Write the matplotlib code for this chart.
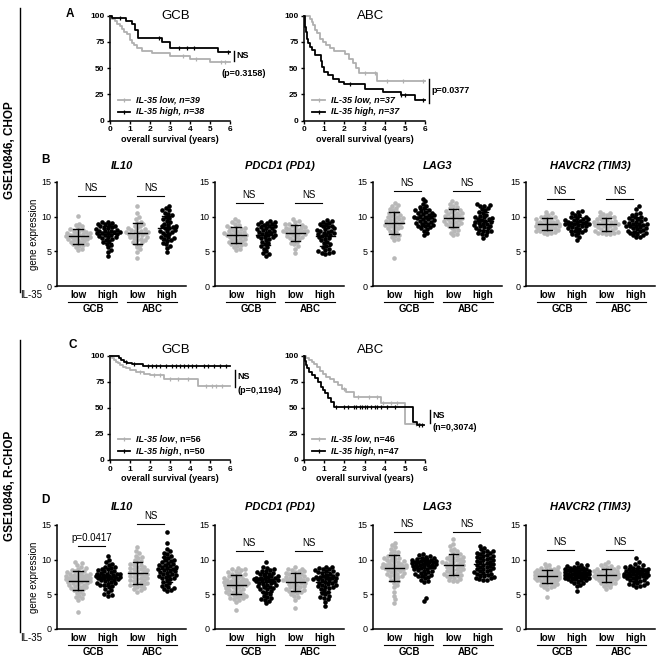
import numpy as np
import matplotlib
matplotlib.use("Agg")
import matplotlib.pyplot as plt

plt.rcParams['font.family'] = ['Liberation Sans', 'DejaVu Sans']

W, H = 669, 658
KM_GREY = '#b0b0b0'
DOT_GREY = '#b8b8b8'

# ---------------- survival curves (years, % alive) ----------------
# CHOP, GCB
chop_gcb_low_t = [0, 0.1, 0.25, 0.35, 0.5, 0.6, 0.7, 0.85, 1.0, 1.1, 1.2, 1.35, 1.6, 2.1, 3.0, 4.0, 5.0, 6.0]
chop_gcb_low_s = [100, 97, 95, 92, 89.7, 87, 84.6, 82, 77, 74, 71.8, 69, 66.7, 64, 61.5, 59, 56, 56]
chop_gcb_low_cens = [3.65, 4.3, 5.55, 5.75]
chop_gcb_high_t = [0, 0.1, 0.8, 1.1, 1.25, 1.4, 2.6, 3.0, 5.4, 6.0]
chop_gcb_high_s = [100, 97.4, 94.7, 92.0, 86.6, 78.5, 74.5, 69.3, 65.7, 65.7]
chop_gcb_high_cens = [0.5, 2.45, 3.45, 3.85, 4.2, 5.9]
# CHOP, ABC
chop_abc_low_t = [0, 0.3, 0.38, 0.45, 0.55, 0.65, 0.8, 0.95, 1.1, 1.3, 1.5, 2.05, 2.25, 2.45, 2.6, 2.75, 3.6, 6.0]
chop_abc_low_s = [100, 97, 94, 91, 86, 83, 78, 75, 72, 69, 66, 63, 59, 55, 50, 45, 38, 38]
chop_abc_low_cens = [3.0, 3.5, 4.1, 4.9, 5.9]
chop_abc_high_t = [0, 0.03, 0.07, 0.12, 0.17, 0.22, 0.3, 0.4, 0.55, 0.85, 0.9, 0.97, 1.2, 1.45, 1.75, 2.0, 3.0, 3.9, 4.8, 5.5, 6.0]
chop_abc_high_s = [100, 95, 89, 84, 78, 74, 70, 67, 62, 57, 51, 46, 43, 40, 37, 35, 30, 27, 24, 19.5, 19.5]
chop_abc_high_cens = [2.3, 4.8, 5.0, 5.9]
# R-CHOP, GCB
rchop_gcb_low_t = [0, 0.12, 0.2, 0.3, 0.4, 0.5, 0.65, 0.8, 1.0, 1.3, 1.7, 2.0, 2.7, 4.4, 6.0]
rchop_gcb_low_s = [100, 98.2, 96.4, 94.6, 92.8, 91, 89.5, 88, 87, 85, 83, 82, 78, 71, 71]
rchop_gcb_low_cens = [1.5, 2.2, 2.5, 3.0, 3.4, 3.9, 4.8, 5.1, 5.3, 5.6]
rchop_gcb_high_t = [0, 0.45, 0.55, 0.7, 0.85, 1.1, 1.65, 6.0]
rchop_gcb_high_s = [100, 98, 96, 94, 93, 92, 90, 90]
rchop_gcb_high_cens = [0.8, 1.2, 1.9, 2.1, 2.3, 2.5, 2.8, 3.1, 3.3, 3.5, 3.7, 3.9, 4.1, 4.3, 4.7, 4.9, 5.2, 5.5, 5.8]
# R-CHOP, ABC
rchop_abc_low_t = [0, 0.1, 0.25, 0.4, 0.5, 0.65, 0.8, 0.95, 1.1, 1.3, 1.5, 1.7, 1.9, 2.1, 2.5, 3.8, 5.0, 5.75]
rchop_abc_low_s = [100, 98, 96, 94, 92, 89, 86, 83, 80, 78, 75, 72, 68, 65, 61, 55, 35, 35]
rchop_abc_low_cens = [2.0, 2.7, 3.2, 3.6, 3.9, 4.3, 4.6, 5.55]
rchop_abc_high_t = [0, 0.03, 0.08, 0.15, 0.25, 0.4, 0.55, 0.7, 0.85, 0.95, 1.05, 1.2, 1.35, 1.5, 5.4, 5.6, 5.95]
rchop_abc_high_s = [100, 95, 91, 88, 85, 82, 79, 75, 70, 67, 64, 60, 56, 51, 37, 34, 34]
rchop_abc_high_cens = [1.6, 2.0, 2.2, 2.5, 2.6, 2.8, 2.9, 3.0, 3.1, 3.3, 3.5, 3.6, 3.8, 4.1, 4.5, 5.7, 5.85]

# ---------------- gene expression, groups: GCB low, GCB high, ABC low, ABC high ----------------
group_labels = ['low', 'high', 'low', 'high']
subtypes = ['GCB', 'ABC']
gene_titles = ['IL10', 'PDCD1 (PD1)', 'LAG3', 'HAVCR2 (TIM3)']

chop_il10 = [
    [10.1, 9.0, 8.8, 8.6, 8.4, 8.2, 8.1, 8.0, 7.9, 7.8, 7.7, 7.6, 7.6, 7.5, 7.4, 7.4, 7.3, 7.3, 7.2, 7.1,
     7.1, 7.0, 7.0, 6.9, 6.8, 6.8, 6.7, 6.6, 6.5, 6.4, 6.3, 6.2, 6.1, 6.0, 5.9, 5.8, 5.6, 5.4, 5.2],
    [9.3, 9.2, 9.1, 9.0, 8.9, 8.8, 8.7, 8.6, 8.5, 8.4, 8.3, 8.2, 8.1, 8.0, 8.0, 7.9, 7.8, 7.8, 7.7, 7.6,
     7.6, 7.5, 7.4, 7.3, 7.2, 7.1, 7.0, 6.9, 6.8, 6.7, 6.5, 6.3, 6.1, 5.9, 5.6, 5.2, 4.9, 4.3],
    [11.6, 10.6, 10.0, 9.6, 9.3, 9.1, 8.9, 8.7, 8.6, 8.4, 8.3, 8.2, 8.1, 8.0, 7.9, 7.8, 7.8, 7.7, 7.6, 7.5,
     7.4, 7.3, 7.2, 7.1, 7.0, 6.9, 6.8, 6.7, 6.6, 6.4, 6.3, 6.1, 5.9, 5.6, 5.3, 4.9, 4.1],
    [11.5, 11.2, 11.0, 10.9, 10.6, 10.4, 10.2, 10.0, 9.8, 9.6, 9.4, 9.2, 9.0, 8.8, 8.7, 8.6, 8.5, 8.4, 8.3,
     8.1, 8.0, 7.9, 7.8, 7.7, 7.5, 7.3, 7.1, 7.0, 6.9, 6.8, 6.6, 6.5, 6.2, 6.0, 5.8, 5.5, 4.9],
]
chop_pdcd1 = [
    [9.7, 9.4, 9.2, 9.0, 8.8, 8.6, 8.5, 8.4, 8.3, 8.2, 8.1, 8.0, 7.9, 7.8, 7.7, 7.6, 7.6, 7.5, 7.4, 7.3,
     7.3, 7.2, 7.1, 7.0, 6.9, 6.8, 6.7, 6.6, 6.5, 6.4, 6.3, 6.2, 6.1, 6.0, 5.9, 5.8, 5.6, 5.4, 5.2],
    [9.4, 9.3, 9.2, 9.1, 9.0, 8.9, 8.8, 8.7, 8.6, 8.5, 8.4, 8.3, 8.2, 8.1, 8.0, 7.9, 7.8, 7.7, 7.6, 7.5,
     7.4, 7.3, 7.2, 7.1, 7.0, 6.9, 6.8, 6.6, 6.4, 6.2, 6.0, 5.8, 5.6, 5.4, 5.0, 4.7, 4.6, 4.3],
    [9.6, 9.4, 9.2, 9.0, 8.9, 8.8, 8.7, 8.6, 8.5, 8.4, 8.3, 8.2, 8.2, 8.1, 8.0, 8.0, 7.9, 7.9, 7.8, 7.8,
     7.7, 7.6, 7.5, 7.4, 7.3, 7.2, 7.1, 7.0, 6.9, 6.8, 6.6, 6.4, 6.2, 6.0, 5.8, 5.4, 4.7],
    [9.5, 9.4, 9.3, 9.1, 9.0, 8.9, 8.7, 8.6, 8.5, 8.3, 8.2, 8.1, 8.0, 7.9, 7.8, 7.7, 7.6, 7.5, 7.4,
     7.3, 7.2, 7.0, 6.9, 6.8, 6.6, 6.4, 6.2, 6.0, 5.8, 5.6, 5.4, 5.2, 5.0, 4.9, 4.8, 4.7, 4.6],
]
chop_lag3 = [
    [11.9, 11.7, 11.5, 11.3, 11.1, 10.9, 10.7, 10.5, 10.4, 10.2, 10.1, 10.0, 9.9, 9.8, 9.7, 9.6, 9.5, 9.4,
     9.3, 9.2, 9.1, 9.0, 8.9, 8.8, 8.7, 8.6, 8.5, 8.4, 8.3, 8.2, 8.0, 7.8, 7.6, 7.4, 7.2, 7.0, 6.8, 6.6, 4.1],
    [12.6, 12.2, 11.8, 11.6, 11.4, 11.2, 11.0, 10.9, 10.8, 10.7, 10.6, 10.5, 10.4, 10.3, 10.2, 10.1, 10.0,
     10.0, 9.9, 9.8, 9.7, 9.6, 9.5, 9.4, 9.3, 9.2, 9.1, 9.0, 8.9, 8.8, 8.7, 8.6, 8.5, 8.4, 8.2, 8.0, 7.6, 7.4],
    [12.2, 12.0, 11.8, 11.6, 11.4, 11.2, 11.0, 10.9, 10.8, 10.7, 10.6, 10.5, 10.4, 10.3, 10.2, 10.1, 10.0,
     9.9, 9.8, 9.7, 9.6, 9.5, 9.4, 9.3, 9.2, 9.1, 9.0, 8.9, 8.8, 8.7, 8.5, 8.3, 8.1, 7.9, 7.7, 7.5, 7.3],
    [11.8, 11.7, 11.6, 11.5, 11.3, 11.1, 10.9, 10.7, 10.5, 10.3, 10.1, 10.0, 9.9, 9.8, 9.7, 9.6, 9.5, 9.4,
     9.3, 9.2, 9.1, 9.0, 8.9, 8.8, 8.7, 8.6, 8.5, 8.4, 8.3, 8.1, 8.0, 7.9, 7.8, 7.6, 7.5, 7.3, 6.9],
]
chop_havcr2 = [
    [10.7, 10.5, 10.3, 10.1, 10.0, 9.9, 9.8, 9.7, 9.6, 9.5, 9.4, 9.3, 9.3, 9.2, 9.1, 9.1, 9.0, 9.0, 8.9, 8.9,
     8.8, 8.8, 8.7, 8.7, 8.6, 8.5, 8.5, 8.4, 8.3, 8.3, 8.2, 8.1, 8.0, 7.9, 7.9, 7.8, 7.7, 7.6, 7.5],
    [10.8, 10.7, 10.5, 10.3, 10.2, 10.0, 9.9, 9.8, 9.7, 9.6, 9.5, 9.5, 9.4, 9.3, 9.2, 9.2, 9.1, 9.1, 9.0,
     9.0, 8.9, 8.8, 8.8, 8.7, 8.6, 8.5, 8.4, 8.3, 8.2, 8.1, 8.0, 7.9, 7.8, 7.7, 7.5, 7.3, 7.1, 6.7],
    [10.7, 10.5, 10.4, 10.2, 10.1, 10.0, 9.9, 9.8, 9.7, 9.6, 9.5, 9.4, 9.3, 9.2, 9.2, 9.1, 9.0, 9.0, 8.9,
     8.8, 8.8, 8.7, 8.6, 8.5, 8.4, 8.3, 8.2, 8.1, 8.0, 7.9, 7.9, 7.8, 7.7, 7.6, 7.6, 7.5, 7.5],
    [11.5, 11.1, 10.6, 10.4, 10.2, 10.0, 9.9, 9.8, 9.7, 9.6, 9.5, 9.4, 9.3, 9.2, 9.1, 9.0, 9.0, 8.9, 8.8,
     8.7, 8.6, 8.6, 8.5, 8.4, 8.3, 8.2, 8.1, 8.0, 7.9, 7.8, 7.7, 7.6, 7.5, 7.4, 7.3, 7.1, 7.0],
]

rchop_il10 = [
    [9.6, 9.5, 9.2, 9.0, 8.8, 8.6, 8.5, 8.4, 8.3, 8.2, 8.1, 8.0, 7.9, 7.9, 7.8, 7.8, 7.7, 7.7, 7.6, 7.6,
     7.5, 7.5, 7.4, 7.4, 7.3, 7.3, 7.2, 7.2, 7.1, 7.1, 7.0, 7.0, 6.9, 6.9, 6.8, 6.8, 6.7, 6.6, 6.5, 6.4,
     6.3, 6.2, 6.1, 6.0, 5.9, 5.8, 5.7, 5.6, 5.4, 5.2, 5.0, 4.8, 4.6, 4.4, 4.2, 2.5],
    [10.6, 10.0, 9.6, 9.4, 9.2, 9.0, 8.9, 8.8, 8.7, 8.6, 8.5, 8.4, 8.3, 8.2, 8.1, 8.0, 8.0, 7.9, 7.9, 7.8,
     7.8, 7.7, 7.7, 7.6, 7.6, 7.5, 7.5, 7.4, 7.4, 7.3, 7.3, 7.2, 7.2, 7.1, 7.0, 6.9, 6.8, 6.7, 6.6, 6.5,
     6.4, 6.3, 6.2, 6.0, 5.8, 5.6, 5.4, 5.0, 4.9, 4.8],
    [11.8, 11.3, 10.9, 10.6, 10.4, 10.2, 10.0, 9.8, 9.6, 9.4, 9.3, 9.2, 9.0, 8.9, 8.8, 8.7, 8.6, 8.5, 8.4,
     8.3, 8.2, 8.1, 8.0, 7.9, 7.8, 7.7, 7.6, 7.5, 7.4, 7.3, 7.2, 7.1, 7.0, 6.9, 6.8, 6.7, 6.6, 6.5, 6.4,
     6.3, 6.2, 6.0, 5.9, 5.7, 5.6, 5.4],
    [14.0, 12.4, 11.6, 11.2, 11.0, 10.8, 10.6, 10.4, 10.2, 10.0, 9.9, 9.8, 9.6, 9.5, 9.4, 9.3, 9.2, 9.1,
     9.0, 8.9, 8.8, 8.7, 8.6, 8.5, 8.4, 8.3, 8.2, 8.1, 8.0, 7.9, 7.8, 7.7, 7.6, 7.5, 7.4, 7.3, 7.2, 7.0,
     6.8, 6.6, 6.4, 6.2, 6.0, 5.9, 5.8, 5.6, 5.5],
]
rchop_pdcd1 = [
    [8.8, 8.7, 8.6, 8.5, 8.4, 8.2, 8.1, 8.0, 7.9, 7.8, 7.7, 7.6, 7.5, 7.4, 7.3, 7.2, 7.1, 7.0, 7.0, 6.9,
     6.9, 6.8, 6.8, 6.7, 6.7, 6.6, 6.6, 6.5, 6.5, 6.4, 6.4, 6.3, 6.3, 6.2, 6.1, 6.0, 5.9, 5.8, 5.7, 5.6,
     5.5, 5.4, 5.3, 5.2, 5.1, 5.0, 4.9, 4.8, 4.7, 4.6, 4.5, 4.4, 4.3, 4.2, 3.9, 2.8],
    [9.7, 9.0, 8.8, 8.6, 8.5, 8.4, 8.3, 8.2, 8.1, 8.0, 7.9, 7.8, 7.7, 7.6, 7.5, 7.4, 7.4, 7.3, 7.3, 7.2,
     7.2, 7.1, 7.1, 7.0, 7.0, 6.9, 6.9, 6.8, 6.7, 6.6, 6.5, 6.4, 6.3, 6.2, 6.1, 6.0, 5.9, 5.8, 5.7, 5.5,
     5.4, 5.2, 5.0, 4.8, 4.6, 4.4, 4.3, 4.2, 4.0, 3.7],
    [8.9, 8.7, 8.6, 8.5, 8.4, 8.3, 8.2, 8.1, 8.0, 7.9, 7.8, 7.7, 7.6, 7.5, 7.4, 7.3, 7.3, 7.2, 7.2, 7.1,
     7.1, 7.0, 7.0, 6.9, 6.8, 6.7, 6.6, 6.5, 6.4, 6.3, 6.2, 6.1, 6.0, 5.9, 5.8, 5.7, 5.6, 5.5, 5.4, 5.3,
     5.2, 5.0, 4.8, 4.6, 4.2, 3.1],
    [9.0, 8.9, 8.8, 8.7, 8.6, 8.5, 8.4, 8.3, 8.2, 8.1, 8.0, 7.9, 7.8, 7.7, 7.6, 7.5, 7.5, 7.4, 7.4, 7.3,
     7.3, 7.2, 7.2, 7.1, 7.0, 6.9, 6.8, 6.7, 6.6, 6.5, 6.4, 6.3, 6.2, 6.1, 6.0, 5.9, 5.8, 5.6, 5.4, 5.2,
     5.0, 4.8, 4.6, 4.5, 4.3, 3.9, 3.3],
]
rchop_lag3 = [
    [12.4, 12.1, 11.8, 11.5, 11.3, 11.1, 10.9, 10.7, 10.5, 10.4, 10.3, 10.2, 10.1, 10.0, 9.9, 9.8, 9.7,
     9.6, 9.5, 9.4, 9.4, 9.3, 9.3, 9.2, 9.2, 9.1, 9.1, 9.0, 9.0, 8.9, 8.9, 8.8, 8.8, 8.7, 8.6, 8.5, 8.4,
     8.3, 8.2, 8.1, 8.0, 7.9, 7.8, 7.7, 7.6, 7.5, 7.3, 7.1, 6.9, 6.7, 6.4, 6.0, 5.4, 4.8, 4.3, 3.8],
    [10.8, 10.7, 10.5, 10.4, 10.3, 10.2, 10.1, 10.0, 10.0, 9.9, 9.9, 9.8, 9.8, 9.7, 9.7, 9.6, 9.6, 9.5,
     9.5, 9.4, 9.4, 9.3, 9.3, 9.2, 9.2, 9.1, 9.1, 9.0, 9.0, 8.9, 8.8, 8.7, 8.6, 8.5, 8.4, 8.3, 8.2, 8.1,
     8.0, 7.9, 7.8, 7.7, 7.6, 7.5, 7.3, 7.1, 6.9, 6.8, 4.4, 4.0],
    [13.0, 12.3, 11.9, 11.6, 11.4, 11.2, 11.0, 10.8, 10.6, 10.5, 10.4, 10.3, 10.2, 10.1, 10.0, 9.9, 9.8,
     9.7, 9.6, 9.5, 9.5, 9.4, 9.3, 9.2, 9.1, 9.0, 8.9, 8.8, 8.7, 8.6, 8.5, 8.4, 8.3, 8.2, 8.1, 8.0, 7.9,
     7.8, 7.7, 7.6, 7.5, 7.4, 7.2, 7.0, 6.9, 6.9],
    [12.0, 11.7, 11.5, 11.3, 11.2, 11.1, 11.0, 10.9, 10.8, 10.7, 10.6, 10.5, 10.4, 10.3, 10.2, 10.1, 10.0,
     9.9, 9.8, 9.7, 9.6, 9.5, 9.4, 9.3, 9.2, 9.1, 9.0, 8.9, 8.8, 8.7, 8.6, 8.5, 8.4, 8.3, 8.2, 8.1, 8.0,
     7.9, 7.8, 7.7, 7.6, 7.5, 7.4, 7.3, 7.2, 7.1, 7.1],
]
rchop_havcr2 = [
    [9.4, 9.2, 9.0, 8.9, 8.8, 8.7, 8.6, 8.5, 8.5, 8.4, 8.4, 8.3, 8.3, 8.2, 8.2, 8.1, 8.1, 8.0, 8.0, 8.0,
     7.9, 7.9, 7.9, 7.8, 7.8, 7.8, 7.7, 7.7, 7.7, 7.6, 7.6, 7.6, 7.5, 7.5, 7.4, 7.4, 7.3, 7.3, 7.2, 7.2,
     7.1, 7.1, 7.0, 7.0, 6.9, 6.8, 6.7, 6.6, 6.5, 6.4, 6.3, 6.2, 6.1, 6.0, 5.8, 4.6],
    [9.5, 9.3, 9.2, 9.1, 9.0, 8.9, 8.8, 8.8, 8.7, 8.7, 8.6, 8.6, 8.5, 8.5, 8.4, 8.4, 8.3, 8.3, 8.2, 8.2,
     8.1, 8.1, 8.0, 8.0, 8.0, 7.9, 7.9, 7.8, 7.8, 7.7, 7.7, 7.6, 7.6, 7.5, 7.5, 7.4, 7.4, 7.3, 7.3, 7.2,
     7.2, 7.1, 7.0, 6.9, 6.8, 6.7, 6.6, 6.4, 6.2, 5.5],
    [9.6, 9.4, 9.2, 9.1, 9.0, 8.9, 8.8, 8.7, 8.6, 8.5, 8.5, 8.4, 8.3, 8.3, 8.2, 8.1, 8.1, 8.0, 8.0, 7.9,
     7.9, 7.8, 7.8, 7.7, 7.7, 7.6, 7.6, 7.5, 7.5, 7.4, 7.4, 7.3, 7.3, 7.2, 7.2, 7.1, 7.0, 6.9, 6.8, 6.7,
     6.6, 6.5, 6.4, 6.2, 6.0, 5.8],
    [10.2, 9.6, 9.4, 9.2, 9.1, 9.0, 8.9, 8.8, 8.7, 8.6, 8.6, 8.5, 8.5, 8.4, 8.4, 8.3, 8.3, 8.2, 8.2, 8.1,
     8.1, 8.0, 8.0, 7.9, 7.9, 7.8, 7.8, 7.7, 7.7, 7.6, 7.6, 7.5, 7.5, 7.4, 7.3, 7.2, 7.1, 7.0, 6.9, 6.8,
     6.7, 6.6, 6.5, 6.4, 6.3, 6.2, 6.1],
]

# significance labels and bar heights for each gene panel (GCB pair, ABC pair)
chop_sig = [(['NS', 'NS'], [13.0, 13.0]), (['NS', 'NS'], [12.0, 12.0]),
            (['NS', 'NS'], [13.75, 13.75]), (['NS', 'NS'], [12.6, 12.6])]
rchop_sig = [(['p=0.0417', 'NS'], [11.9, 15.1]), (['NS', 'NS'], [11.3, 11.3]),
             (['NS', 'NS'], [14.0, 14.0]), (['NS', 'NS'], [11.4, 11.4])]


def px_axes(fig, left, top, right, bottom):
    return fig.add_axes([left / W, 1 - bottom / H, (right - left) / W, (bottom - top) / H])


def swarm(vals, ppu_y=104 / 15, ppu_x=29.6, d=3.6, maxw=12.0):
    """GraphPad-like scatter layout: spread points sideways so they overlap less."""
    vals = np.asarray(vals, dtype=float)
    cands = [0.0]
    k = 1
    while k * 0.5 <= maxw:
        cands += [k * 0.5, -k * 0.5]
        k += 1
    placed = []
    xs = np.zeros(len(vals))
    for i in np.argsort(vals):
        y = vals[i] * ppu_y
        best, best_ov, best_c = None, None, 0.0
        for c in cands:
            ov = 0.0
            for px, py in placed:
                dd = np.hypot(px - c, py - y)
                if dd < d:
                    ov = max(ov, d - dd)
            if ov == 0:
                best = c
                break
            if best_ov is None or ov < best_ov:
                best_ov, best_c = ov, c
        if best is None:
            best = best_c
        placed.append((best, y))
        xs[i] = best / ppu_x
    return xs


def step_value(t, s, x):
    idx = np.searchsorted(t, x, side='right') - 1
    return np.asarray(s)[idx]


def km_panel(ax, curves, title, title_y, legend, italic_n):
    for t, s, cens, color in curves:
        ax.step(t, s, where='post', color=color, lw=1.3, clip_on=False, zorder=3)
        ax.plot(cens, step_value(t, s, cens), ls='none', marker='|', ms=3.2, mew=0.9,
                color=color, clip_on=False, zorder=3)
    ax.set_xlim(0, 6)
    ax.set_ylim(0, 100)
    ax.set_xticks(range(7))
    ax.set_yticks([0, 25, 50, 75, 100])
    for sp in ['top', 'right']:
        ax.spines[sp].set_visible(False)
    for sp in ['left', 'bottom']:
        ax.spines[sp].set_linewidth(1.1)
    ax.tick_params(length=2.5, width=1.0, labelsize=6, pad=1.5)
    for lab in ax.get_xticklabels() + ax.get_yticklabels():
        lab.set_fontweight('bold')
    ax.text(0.5, -0.18, 'overall survival (years)', transform=ax.transAxes, ha='center',
            va='center', fontsize=6.5, fontweight='bold')
    ax.text(0.55, title_y, title, transform=ax.transAxes, ha='center', va='center', fontsize=9.5)
    for (main, n_txt, color), yf in zip(legend, [0.2, 0.085]):
        ax.plot([0.07, 0.17], [yf, yf], transform=ax.transAxes, color=color, lw=1.3, clip_on=False)
        ax.plot([0.12], [yf], transform=ax.transAxes, marker='|', ms=3, mew=0.9, color=color,
                clip_on=False)
        if italic_n:
            ax.text(0.22, yf, main + n_txt, transform=ax.transAxes, va='center', fontsize=6.5,
                    fontweight='bold', style='italic')
        else:
            t1 = ax.text(0.22, yf, main, transform=ax.transAxes, va='center', fontsize=6.5,
                         fontweight='bold', style='italic')
            ax.annotate(n_txt, xy=(1, 0.5), xycoords=t1, va='center', ha='left', fontsize=6.5,
                        fontweight='bold')


def sig_bar(ax, x0, ytop, ybot, texts):
    ax.plot([x0, x0], [ybot, ytop], color='black', lw=1.0, clip_on=False)
    for txt, yy in texts:
        ax.text(x0 + 0.12, yy, txt, ha='left', va='center', fontsize=6.5, fontweight='bold')


def dot_panel(ax, groups, title, title_y, sig, first):
    labels, heights = sig
    for i, vals in enumerate(groups):
        vals = np.asarray(vals, dtype=float)
        color = DOT_GREY if i % 2 == 0 else 'black'
        ax.scatter(i + swarm(vals), vals, s=11, c=color, linewidths=0, zorder=2, clip_on=False)
        m, sd = vals.mean(), vals.std(ddof=1)
        ax.plot([i - 0.32, i + 0.32], [m, m], color='black', lw=1.0, zorder=3)
        ax.plot([i, i], [m - sd, m + sd], color='black', lw=1.0, zorder=3)
        for yy in (m - sd, m + sd):
            ax.plot([i - 0.16, i + 0.16], [yy, yy], color='black', lw=1.0, zorder=3)
    for j in range(2):
        x0 = 2 * j
        ax.plot([x0, x0 + 0.9], [heights[j], heights[j]], color='black', lw=0.8, clip_on=False)
        ax.text(x0 + 0.45, heights[j] + 0.45, labels[j], ha='center', va='bottom', fontsize=7)
    ax.set_xlim(-0.71, 3.64)
    ax.set_ylim(0, 15)
    ax.set_yticks([0, 5, 10, 15])
    ax.set_xticks([])
    for sp in ['top', 'right']:
        ax.spines[sp].set_visible(False)
    for sp in ['left', 'bottom']:
        ax.spines[sp].set_linewidth(1.1)
    ax.tick_params(axis='y', length=2.5, width=1.0, labelsize=6.5, pad=1.5)
    tr = ax.get_xaxis_transform()
    for i, lab in enumerate(group_labels):
        ax.text(i, -0.085, lab, transform=tr, ha='center', va='center', fontsize=7, fontweight='bold')
    for j, name in enumerate(subtypes):
        ax.plot([2 * j - 0.34, 2 * j + 1.32], [-0.155, -0.155], transform=tr, color='black', lw=0.8,
                clip_on=False)
        ax.text(2 * j + 0.5, -0.225, name, transform=tr, ha='center', va='center', fontsize=7,
                fontweight='bold')
    ax.text(0.5, title_y, title, transform=ax.transAxes, ha='center', va='center', fontsize=8,
            fontweight='bold', style='italic')
    if first:
        ax.set_ylabel('gene expression', fontsize=7, labelpad=2)
        ax.text(-0.2, -0.085, 'IL-35', transform=ax.transAxes, ha='center', va='center', fontsize=7)


fig = plt.figure(figsize=(W / 100, H / 100), dpi=100)

# ---- A: CHOP survival ----
ax = px_axes(fig, 110, 15.6, 230, 120.5)
km_panel(ax, [(chop_gcb_low_t, chop_gcb_low_s, chop_gcb_low_cens, KM_GREY),
              (chop_gcb_high_t, chop_gcb_high_s, chop_gcb_high_cens, 'black')],
         'GCB', 1.0, [('IL-35 low', ', n=39', KM_GREY), ('IL-35 high', ', n=38', 'black')], True)
sig_bar(ax, 6.2, 66, 57, [('NS', 61.5)])
ax.text(5.6, 45, '(p=0.3158)', ha='left', va='center', fontsize=6.5, fontweight='bold')

ax = px_axes(fig, 304, 15.6, 425, 120.5)
km_panel(ax, [(chop_abc_low_t, chop_abc_low_s, chop_abc_low_cens, KM_GREY),
              (chop_abc_high_t, chop_abc_high_s, chop_abc_high_cens, 'black')],
         'ABC', 1.0, [('IL-35 low', ', n=37', KM_GREY), ('IL-35 high', ', n=37', 'black')], True)
sig_bar(ax, 6.2, 40, 17, [('p=0.0377', 29)])

# ---- C: R-CHOP survival ----
ax = px_axes(fig, 110, 356, 230, 460)
km_panel(ax, [(rchop_gcb_low_t, rchop_gcb_low_s, rchop_gcb_low_cens, KM_GREY),
              (rchop_gcb_high_t, rchop_gcb_high_s, rchop_gcb_high_cens, 'black')],
         'GCB', 1.06, [('IL-35 low', ', n=56', KM_GREY), ('IL-35 high', ', n=50', 'black')], False)
sig_bar(ax, 6.25, 87, 70, [('NS', 80), ('(p=0,1194)', 67)])

ax = px_axes(fig, 304, 356, 425, 460)
km_panel(ax, [(rchop_abc_low_t, rchop_abc_low_s, rchop_abc_low_cens, KM_GREY),
              (rchop_abc_high_t, rchop_abc_high_s, rchop_abc_high_cens, 'black')],
         'ABC', 1.06, [('IL-35 low', ', n=46', KM_GREY), ('IL-35 high', ', n=47', 'black')], False)
sig_bar(ax, 6.25, 48, 36, [('NS', 43), ('(n=0,3074)', 31)])

# ---- B / D: gene expression ----
lefts = [57, 215, 373, 526]
for k, (genes, sig) in enumerate(zip([chop_il10, chop_pdcd1, chop_lag3, chop_havcr2], chop_sig)):
    ax = px_axes(fig, lefts[k], 182, lefts[k] + 129, 286)
    dot_panel(ax, genes, gene_titles[k], 1.155, sig, k == 0)
for k, (genes, sig) in enumerate(zip([rchop_il10, rchop_pdcd1, rchop_lag3, rchop_havcr2], rchop_sig)):
    ax = px_axes(fig, lefts[k], 525, lefts[k] + 129, 629)
    dot_panel(ax, genes, gene_titles[k], 1.173, sig, k == 0)

# panel letters
for letter, x, y in [('A', 70, 14), ('B', 45, 160), ('C', 73, 345), ('D', 45, 500)]:
    fig.text(x / W, 1 - y / H, letter, ha='center', va='center', fontsize=8.5, fontweight='bold')

# cohort brackets on the left
for label, y0, y1 in [('GSE10846, CHOP', 8, 292), ('GSE10846, R-CHOP', 340, 632)]:
    fig.add_artist(plt.Line2D([20 / W, 20 / W], [1 - y0 / H, 1 - y1 / H], color='black', lw=1.0))
    fig.text(10 / W, 1 - (y0 + y1) / 2 / H, label, rotation=90, ha='center', va='center',
             fontsize=8.5, fontweight='bold')

fig.savefig('out.png', dpi=100)
